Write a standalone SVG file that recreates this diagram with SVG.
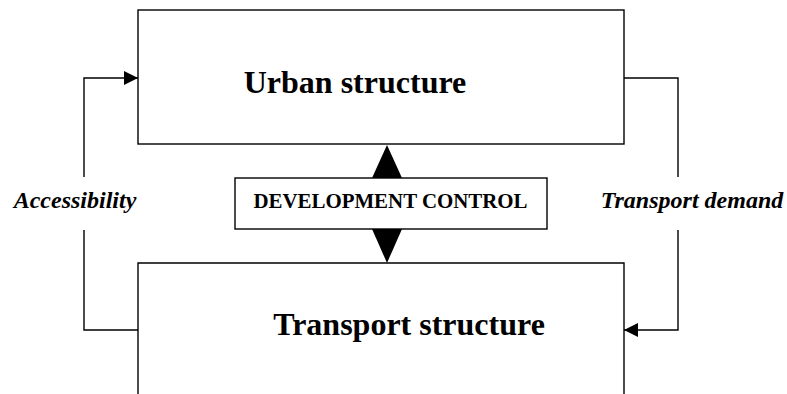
<svg xmlns="http://www.w3.org/2000/svg" width="787" height="394" viewBox="0 0 787 394">
<style>
.box{fill:#fff;stroke:#000;stroke-width:1.4}
.ln{fill:none;stroke:#000;stroke-width:1.4}
.h{font-family:"Liberation Serif","Times New Roman",serif;font-weight:bold;font-size:32px;fill:#000}
.lab{font-family:"Liberation Serif","Times New Roman",serif;font-weight:bold;font-style:italic;font-size:24px;fill:#000}
.dc{font-family:"Liberation Serif","Times New Roman",serif;font-weight:bold;font-size:20.9px;fill:#000}
</style>
<defs>
<marker id="ah" markerWidth="14" markerHeight="14" refX="14" refY="7" orient="auto" markerUnits="userSpaceOnUse">
<path d="M0,0 L14,7 L0,14 Z" fill="#000"/>
</marker>
</defs>
<rect width="787" height="394" fill="#fff"/>
<g id="urban">
<rect class="box" x="138" y="10" width="486" height="134"/>
<text class="h" x="355" y="93" text-anchor="middle">Urban structure</text>
</g>
<g id="transport">
<path class="box" d="M138,400 V263 H624 V400"/>
<text class="h" x="409" y="335" text-anchor="middle">Transport structure</text>
</g>
<g id="connectors">
<path class="ln" d="M84,177 V78 H138" marker-end="url(#ah)"/>
<path class="ln" d="M138,330 H84 V230"/>
<path class="ln" d="M624,78 H678 V177"/>
<path class="ln" d="M678,230 V330 H624" marker-end="url(#ah)"/>
<polygon points="387,145 402,178 372,178" fill="#000"/>
<polygon points="372,229 402,229 387,263" fill="#000"/>
</g>
<g id="development">
<rect class="box" x="235" y="178" width="312" height="51"/>
<text class="dc" x="390.5" y="208" text-anchor="middle">DEVELOPMENT CONTROL</text>
</g>
<g id="labels">
<text class="lab" x="75" y="208" text-anchor="middle">Accessibility</text>
<text class="lab" x="692" y="208" text-anchor="middle">Transport demand</text>
</g>
</svg>
